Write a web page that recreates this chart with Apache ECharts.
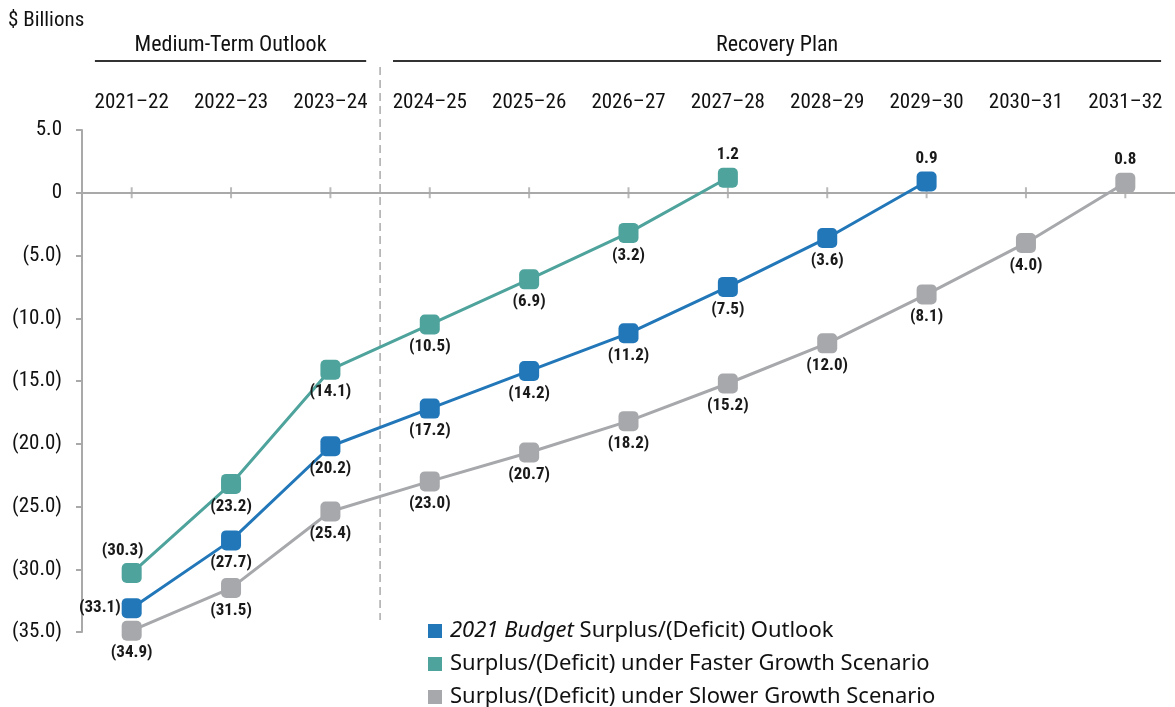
<!DOCTYPE html>
<html>
<head>
<meta charset="utf-8">
<script src="https://cdn.jsdelivr.net/npm/echarts@6/dist/echarts.min.js"></script>
<style>
  html, body { margin: 0; padding: 0; background: #fff; }
  #chart { width: 1175px; height: 707px; }
</style>
</head>
<body>
<div id="chart"></div>
<script>
// Fiscal years
const categories = ['2021–22', '2022–23', '2023–24', '2024–25', '2025–26', '2026–27',
  '2027–28', '2028–29', '2029–30', '2030–31', '2031–32'];

// Surplus / (Deficit), $ billions
const budgetOutlook = [-33.1, -27.7, -20.2, -17.2, -14.2, -11.2, -7.5, -3.6, 0.9, null, null];
const fasterGrowth = [-30.3, -23.2, -14.1, -10.5, -6.9, -3.2, 1.2, null, null, null, null];
const slowerGrowth = [-34.9, -31.5, -25.4, -23.0, -20.7, -18.2, -15.2, -12.0, -8.1, -4.0, 0.8];

const seriesNames = [
  '2021 Budget Surplus/(Deficit) Outlook',
  'Surplus/(Deficit) under Faster Growth Scenario',
  'Surplus/(Deficit) under Slower Growth Scenario'
];

// Y-axis range and step
const yMin = -35, yMax = 5, yStep = 5;

// Period headers: [title, first category index, last category index]
const periods = [
  ['Medium-Term Outlook', 0, 2],
  ['Recovery Plan', 3, 10]
];

const BLUE = '#2277b9', TEAL = '#4ea39c', GRAY = '#a7a8ab';
const AXIS = '#a9a9a9';
const NARROW = '"Roboto Condensed", "Liberation Sans", sans-serif';
const LEGEND_FONT = '"Noto Sans", "Open Sans", sans-serif';

function fmt(v) {
  if (v === 0) return '0';
  const s = Math.abs(v).toFixed(1);
  return v < 0 ? '(' + s + ')' : s;
}

// First point's label is placed beside the marker when the lines bunch up
function buildData(values, firstPos) {
  return values.map((v, i) => {
    if (v === null) return null;
    const label = { position: v >= 0 ? 'top' : 'bottom' };
    if (i === 0 && firstPos === 'left') { label.position = 'left'; label.distance = 1; }
    if (i === 0 && firstPos === 'top') { label.position = 'top'; label.offset = [-9, 0]; }
    return { value: v, label: label };
  });
}

function lineSeries(name, values, color, firstPos) {
  return {
    name: name,
    type: 'line',
    data: buildData(values, firstPos),
    symbol: 'roundRect',
    symbolSize: 20,
    connectNulls: false,
    lineStyle: { color: color, width: 3 },
    itemStyle: { color: color },
    z: 5,
    label: {
      show: true,
      formatter: p => fmt(p.value),
      fontFamily: NARROW,
      fontWeight: 'bold',
      fontSize: 17,
      color: '#1a1a1a',
      distance: 4
    },
    emphasis: { disabled: true }
  };
}

const chart = echarts.init(document.getElementById('chart'), null, { renderer: 'canvas' });

const option = {
  animation: false,
  backgroundColor: '#fff',
  grid: { left: 82, top: 130, bottom: 75, width: 1100 },
  xAxis: [
    {
      type: 'category',
      data: categories,
      boundaryGap: true,
      axisLine: { onZero: true, lineStyle: { color: AXIS, width: 2 } },
      axisTick: { show: false },
      axisLabel: { show: false },
      splitLine: { show: false }
    },
    {
      type: 'category',
      data: categories,
      position: 'top',
      offset: 9,
      boundaryGap: true,
      axisLine: { show: false },
      axisTick: { show: false },
      axisLabel: { fontFamily: NARROW, fontSize: 21, color: '#111', margin: 8, interval: 0 }
    }
  ],
  yAxis: {
    type: 'value',
    min: yMin, max: yMax, interval: yStep,
    axisLine: { show: true, onZero: false, lineStyle: { color: AXIS, width: 2 } },
    axisTick: { show: true, length: 6, lineStyle: { color: AXIS, width: 2 } },
    axisLabel: { formatter: fmt, fontFamily: NARROW, fontSize: 21, color: '#111', margin: 20 },
    splitLine: { show: false }
  },
  legend: {
    orient: 'vertical',
    left: 428,
    top: 620,
    height: 130,
    padding: 0,
    itemWidth: 14,
    itemHeight: 14,
    itemGap: 11,
    icon: 'rect',
    data: seriesNames,
    selectedMode: false,
    formatter: name => name.indexOf('2021 Budget') === 0
      ? '{i|2021 Budget}{n|' + name.slice(11) + '}'
      : '{n|' + name + '}',
    textStyle: {
      fontFamily: LEGEND_FONT, fontSize: 22, color: '#111', lineHeight: 20,
      padding: [0, 0, 0, 3],
      rich: {
        i: { fontFamily: LEGEND_FONT, fontSize: 22, fontStyle: 'italic', color: '#111', lineHeight: 20 },
        n: { fontFamily: LEGEND_FONT, fontSize: 22, color: '#111', lineHeight: 20 }
      }
    }
  },
  series: [
    {
      name: 'ticks',
      type: 'scatter',
      data: categories.map(c => [c, 0]),
      symbol: 'rect',
      symbolSize: [2, 11],
      itemStyle: { color: AXIS },
      silent: true,
      z: 1
    },
    lineSeries(seriesNames[1], fasterGrowth, TEAL, 'top'),
    lineSeries(seriesNames[0], budgetOutlook, BLUE, 'left'),
    lineSeries(seriesNames[2], slowerGrowth, GRAY, null)
  ]
};

chart.setOption(option);

// Period divider and header brackets, placed from the category scale
const px = c => chart.convertToPixel({ xAxisIndex: 0 }, c);
const band = px(categories[1]) - px(categories[0]);
const divider = (px(categories[2]) + px(categories[3])) / 2;
const bottomY = chart.convertToPixel({ yAxisIndex: 0 }, yMin);

const graphics = [
  {
    type: 'line',
    shape: { x1: divider, y1: 67, x2: divider, y2: bottomY - 12 },
    style: { stroke: '#aaaaaa', lineWidth: 1.5, lineDash: [8, 5] },
    z: 0
  },
  {
    type: 'text',
    left: 8, top: 10,
    style: { text: '$ Billions', font: '21px ' + NARROW, fill: '#111' }
  }
];

periods.forEach(([title, a, b]) => {
  const x1 = Math.max(px(categories[a]) - band * 0.37, 0);
  const x2 = Math.min(px(categories[b]) + band * 0.36, 1175);
  graphics.push({
    type: 'line',
    shape: { x1: x1, y1: 61, x2: x2, y2: 61 },
    style: { stroke: '#333', lineWidth: 2 }
  });
  graphics.push({
    type: 'text',
    x: (x1 + x2) / 2, y: 45,
    style: { text: title, font: '22px ' + NARROW, fill: '#111', align: 'center', verticalAlign: 'middle' }
  });
});

chart.setOption({ graphic: graphics });
</script>
</body>
</html>
